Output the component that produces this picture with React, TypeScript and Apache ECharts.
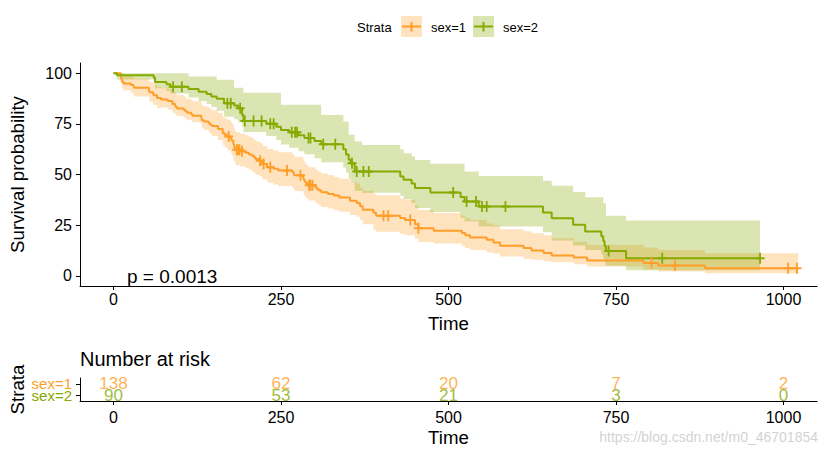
import React, { useEffect, useRef } from "react";
import * as echarts from "echarts";

const ORANGE = "#FF9E29";
const GREEN = "#86AA00";
const FONT = "'Liberation Sans', Arial, sans-serif";

// ---- sex=1 (step times, survival %, 95% CI lower/upper %) ----
const m_time = [0, 11, 12, 13, 15, 26, 30, 31, 53, 54, 59, 60, 65, 71, 81, 88, 92, 93, 95, 105, 107, 110, 116, 118, 131, 132, 135, 142, 144, 147, 156, 163, 166, 170, 175, 176, 177, 179, 180, 181, 183, 189, 197, 202, 207, 210, 212, 218, 222, 223, 229, 230, 239, 246, 267, 269, 270, 283, 284, 285, 286, 288, 291, 301, 303, 306, 310, 320, 329, 337, 353, 363, 368, 372, 388, 392, 428, 435, 450, 455, 478, 520, 525, 532, 557, 567, 577, 612, 624, 642, 654, 687, 707, 791, 813, 883];
const m_surv = [100, 97.8, 97.1, 95.7, 94.9, 94.2, 93.5, 92.8, 91.3, 90.6, 89.9, 89.1, 87.7, 87.0, 86.2, 84.8, 84.1, 83.3, 82.6, 81.9, 81.2, 80.4, 79.7, 79.0, 78.3, 76.8, 76.1, 75.4, 74.6, 73.9, 72.5, 70.3, 69.6, 68.8, 68.1, 67.4, 66.6, 65.2, 64.4, 63.0, 62.2, 61.5, 60.7, 59.9, 59.1, 58.4, 57.6, 56.8, 56.0, 55.2, 54.4, 53.6, 52.8, 52.0, 51.2, 50.4, 49.6, 48.8, 47.9, 47.1, 46.3, 45.5, 44.7, 43.8, 43.0, 42.2, 41.3, 40.4, 39.6, 38.7, 37.0, 36.0, 34.3, 32.6, 31.1, 29.6, 28.6, 27.6, 25.5, 23.5, 22.3, 21.1, 20.0, 18.9, 17.8, 16.4, 14.8, 13.8, 12.5, 11.3, 10.0, 9.0, 7.6, 6.3, 5.1, 3.8];
const m_lower = [100, 95.4, 94.3, 92.4, 91.4, 90.4, 89.4, 88.5, 86.7, 85.9, 85.0, 84.1, 82.8, 83.0, 82.0, 80.5, 80.0, 79.3, 78.8, 78.0, 77.5, 77.0, 76.5, 75.8, 75.0, 73.0, 72.0, 71.0, 70.0, 69.0, 67.0, 64.5, 63.3, 62.0, 60.8, 60.0, 59.2, 57.7, 56.9, 55.4, 54.6, 53.9, 53.1, 52.3, 51.5, 50.7, 49.9, 49.1, 48.3, 47.5, 46.7, 45.9, 45.1, 44.3, 43.5, 42.7, 41.9, 41.1, 40.3, 39.5, 38.8, 38.0, 37.2, 36.4, 35.6, 34.8, 34.0, 33.2, 32.4, 31.6, 30.0, 29.2, 27.7, 25.5, 22.8, 21.7, 20.8, 20.0, 18.3, 16.7, 16.0, 14.8, 13.7, 12.8, 11.6, 11.0, 9.5, 8.5, 7.9, 7.2, 6.7, 5.7, 4.6, 3.2, 2.2, 1.3];
const m_upper = [100, 100, 99.9, 99.1, 98.7, 98.2, 97.7, 97.2, 96.1, 95.6, 95.0, 94.4, 93.3, 92.8, 92.2, 91.0, 90.4, 89.8, 89.2, 88.6, 88.0, 87.3, 86.7, 86.1, 85.5, 84.2, 83.5, 82.9, 82.3, 81.6, 80.3, 78.3, 77.7, 77.0, 76.3, 75.7, 75.0, 73.6, 72.9, 71.5, 70.8, 70.1, 69.4, 68.6, 67.9, 67.2, 66.4, 65.7, 64.9, 64.1, 63.3, 62.5, 61.8, 61.0, 60.2, 59.5, 58.7, 57.8, 57.0, 56.2, 55.3, 54.5, 53.6, 52.8, 52.0, 51.3, 50.5, 49.6, 48.8, 47.9, 46.2, 45.4, 43.6, 42.0, 40.5, 39.8, 38.0, 37.5, 34.8, 32.5, 31.0, 29.6, 28.4, 27.5, 25.8, 25.0, 23.0, 22.0, 21.0, 20.0, 18.6, 16.8, 15.3, 14.0, 12.8, 11.2];
const m_end = 1022;
const m_censor = [172, 184, 186, 188, 192, 219, 224, 234, 259, 279, 292, 294, 297, 403, 410, 443, 455, 803, 838, 1007, 1020];

// ---- sex=2 ----
const f_time = [0, 5, 60, 62, 79, 85, 112, 127, 139, 146, 154, 165, 180, 186, 192, 194, 228, 243, 250, 262, 276, 285, 300, 310, 343, 347, 351, 354, 360, 371, 428, 433, 445, 450, 473, 518, 524, 545, 641, 654, 686, 704, 728, 731, 733, 735, 765];
const f_surv = [100, 98.9, 97.8, 95.6, 94.5, 93.3, 92.2, 90.8, 89.7, 88.5, 87.4, 85.2, 84.0, 82.7, 79.3, 76.4, 75.0, 73.5, 72.0, 70.8, 69.4, 68.0, 66.5, 64.9, 62.5, 59.9, 57.3, 55.5, 51.5, 51.5, 49.0, 47.4, 45.5, 43.3, 41.1, 38.9, 36.7, 34.2, 31.2, 28.4, 25.2, 21.9, 19.5, 17.1, 14.6, 12.3, 8.7];
const f_lower = [100, 96.8, 94.8, 92.5, 91.2, 90.0, 88.0, 86.3, 84.8, 83.3, 81.5, 78.5, 77.3, 75.8, 73.5, 71.0, 69.0, 67.0, 64.8, 63.2, 61.5, 60.0, 58.0, 56.0, 53.5, 51.0, 48.0, 46.0, 42.0, 41.0, 39.5, 37.8, 36.0, 33.5, 31.5, 28.5, 27.0, 24.3, 21.5, 17.5, 15.0, 12.8, 10.5, 8.5, 6.5, 5.0, 2.8];
const f_upper = [100, 100, 100, 100, 100, 100, 98.3, 98.3, 98.3, 98.3, 96.7, 96.7, 92.8, 92.8, 92.8, 90.3, 90.3, 90.3, 84.4, 84.4, 84.4, 84.4, 84.4, 79.4, 76.1, 76.1, 69.6, 69.6, 66.3, 64.6, 62.5, 60.5, 58.9, 57.2, 55.3, 55.3, 51.5, 49.3, 46.9, 44.4, 41.4, 38.8, 38.8, 35.9, 35.9, 29.6, 27.3];
const f_end = 965;
const f_censor = [89, 102, 170, 175, 189, 196, 209, 221, 234, 239, 266, 271, 274, 291, 294, 313, 331, 356, 363, 373, 381, 507, 527, 541, 550, 557, 585, 739, 819, 965];

// ---- risk table ----
const strata = ["sex=1", "sex=2"];
const riskTimes = [0, 250, 500, 750, 1000];
const risk1 = [138, 62, 20, 7, 2];
const risk2 = [90, 53, 21, 3, 0];

const xTicks = [0, 250, 500, 750, 1000];
const yTicks = [0, 25, 50, 75, 100];
const pValueText = "p = 0.0013";

const CROSS = "path://M4,0H6V4.5H10V6.5H6V11H4V6.5H0V4.5H4Z";

function stepValue(times: number[], vals: number[], t: number) {
  let v = vals[0];
  for (let i = 0; i < times.length; i++) if (times[i] <= t) v = vals[i];
  return v;
}

function bandSeries(times: number[], lower: number[], upper: number[], end: number, color: string) {
  return {
    type: "custom",
    coordinateSystem: "cartesian2d",
    xAxisIndex: 0,
    yAxisIndex: 0,
    silent: true,
    z: 1,
    data: [[times[0], lower[0]]],
    renderItem: (_p: any, api: any) => {
      const pts: number[][] = [];
      const n = times.length;
      for (let i = 0; i < n; i++) {
        const t1 = i + 1 < n ? times[i + 1] : end;
        pts.push(api.coord([times[i], upper[i]]));
        pts.push(api.coord([t1, upper[i]]));
      }
      for (let i = n - 1; i >= 0; i--) {
        const t1 = i + 1 < n ? times[i + 1] : end;
        pts.push(api.coord([t1, lower[i]]));
        pts.push(api.coord([times[i], lower[i]]));
      }
      return { type: "polygon", shape: { points: pts }, style: { fill: color, opacity: 0.3 } };
    },
  };
}

function lineSeries(times: number[], surv: number[], end: number, color: string) {
  const data = times.map((t, i) => [t, surv[i]]);
  data.push([end, surv[surv.length - 1]]);
  return {
    type: "line",
    step: "end",
    xAxisIndex: 0,
    yAxisIndex: 0,
    data,
    symbol: "none",
    silent: true,
    z: 3,
    lineStyle: { color, width: 2 },
  };
}

function censorSeries(times: number[], surv: number[], censor: number[], color: string) {
  return {
    type: "scatter",
    xAxisIndex: 0,
    yAxisIndex: 0,
    data: censor.map((t) => [t, stepValue(times, surv, t)]),
    symbol: CROSS,
    symbolSize: [9, 11],
    silent: true,
    z: 4,
    itemStyle: { color, opacity: 1 },
  };
}

function riskSeries(label: string, counts: number[], color: string) {
  return {
    type: "scatter",
    xAxisIndex: 1,
    yAxisIndex: 1,
    data: riskTimes.map((t, i) => [t, label, counts[i]]),
    symbol: "circle",
    symbolSize: 1,
    silent: true,
    itemStyle: { color: "rgba(0,0,0,0)" },
    label: {
      show: true,
      position: "inside",
      formatter: (p: any) => String(p.value[2]),
      color,
      fontSize: 17,
      fontFamily: FONT,
    },
  };
}

export default function App() {
  const ref = useRef<HTMLDivElement>(null);
  useEffect(() => {
    if (!ref.current) return;
    const chart = echarts.init(ref.current, null, { renderer: "svg" });
    const axisCommon = {
      axisLine: { show: true, onZero: false, lineStyle: { color: "#000", width: 1 } },
      splitLine: { show: false },
    };
    const plain = (v: number) => String(v);
    const option: any = {
      animation: false,
      backgroundColor: "#fff",
      grid: [
        { left: 80, top: 63, width: 737, height: 223 },
        { left: 80, top: 378, width: 737, height: 23 },
      ],
      xAxis: [
        {
          gridIndex: 0,
          type: "value",
          min: -50,
          max: 1050,
          ...axisCommon,
          axisTick: { show: true, length: 4, customValues: xTicks, lineStyle: { color: "#000" } },
          axisLabel: { customValues: xTicks, formatter: plain, fontSize: 16, color: "#000", margin: 5, fontFamily: FONT },
        },
        {
          gridIndex: 1,
          type: "value",
          min: -50,
          max: 1050,
          ...axisCommon,
          axisTick: { show: true, length: 4, customValues: xTicks, lineStyle: { color: "#000" } },
          axisLabel: { customValues: xTicks, formatter: plain, fontSize: 16, color: "#000", margin: 8, fontFamily: FONT },
        },
      ],
      yAxis: [
        {
          gridIndex: 0,
          type: "value",
          min: -5,
          max: 105,
          ...axisCommon,
          axisTick: { show: true, length: 4, customValues: yTicks, lineStyle: { color: "#000" } },
          axisLabel: { customValues: yTicks, formatter: plain, fontSize: 16, color: "#000", margin: 8, fontFamily: FONT },
        },
        {
          gridIndex: 1,
          type: "category",
          data: strata,
          inverse: true,
          ...axisCommon,
          axisTick: { show: true, length: 4, alignWithLabel: true, interval: 0, lineStyle: { color: "#000" } },
          axisLabel: {
            margin: 8,
            interval: 0,
            hideOverlap: false,
            formatter: (v: string) => (v === strata[0] ? `{a|${v}}` : `{b|${v}}`),
            rich: {
              a: { color: ORANGE, fontSize: 15, fontFamily: FONT, lineHeight: 12 },
              b: { color: GREEN, fontSize: 15, fontFamily: FONT, lineHeight: 12 },
            },
          },
        },
      ],
      series: [
        bandSeries(m_time, m_lower, m_upper, m_end, ORANGE),
        bandSeries(f_time, f_lower, f_upper, f_end, GREEN),
        lineSeries(m_time, m_surv, m_end, ORANGE),
        lineSeries(f_time, f_surv, f_end, GREEN),
        censorSeries(m_time, m_surv, m_censor, ORANGE),
        censorSeries(f_time, f_surv, f_censor, GREEN),
        riskSeries(strata[0], risk1, ORANGE),
        riskSeries(strata[1], risk2, GREEN),
      ],
      graphic: [
        // legend
        { type: "text", x: 357, y: 27, style: { text: "Strata", font: `13px ${FONT}`, fill: "#000", align: "left", verticalAlign: "middle" } },
        { type: "rect", shape: { x: 401, y: 16, width: 21, height: 21 }, style: { fill: ORANGE, opacity: 0.3 } },
        { type: "line", shape: { x1: 402, y1: 26.5, x2: 421, y2: 26.5 }, style: { stroke: ORANGE, lineWidth: 2 } },
        { type: "line", shape: { x1: 411.5, y1: 22, x2: 411.5, y2: 31.5 }, style: { stroke: ORANGE, lineWidth: 2 } },
        { type: "text", x: 431, y: 27, style: { text: strata[0], font: `13px ${FONT}`, fill: "#000", align: "left", verticalAlign: "middle" } },
        { type: "rect", shape: { x: 473, y: 16, width: 21, height: 21 }, style: { fill: GREEN, opacity: 0.3 } },
        { type: "line", shape: { x1: 474, y1: 26.5, x2: 493, y2: 26.5 }, style: { stroke: GREEN, lineWidth: 2 } },
        { type: "line", shape: { x1: 483.5, y1: 22, x2: 483.5, y2: 31.5 }, style: { stroke: GREEN, lineWidth: 2 } },
        { type: "text", x: 503, y: 27, style: { text: strata[1], font: `13px ${FONT}`, fill: "#000", align: "left", verticalAlign: "middle" } },
        // titles
        { type: "text", x: 17, y: 174.5, rotation: Math.PI / 2, style: { text: "Survival probability", font: `18.7px ${FONT}`, fill: "#000", align: "center", verticalAlign: "middle" } },
        { type: "text", x: 448.5, y: 323, style: { text: "Time", font: `18.7px ${FONT}`, fill: "#000", align: "center", verticalAlign: "middle" } },
        { type: "text", x: 127, y: 276, style: { text: pValueText, font: `19px ${FONT}`, fill: "#000", align: "left", verticalAlign: "middle" } },
        { type: "text", x: 80, y: 359, style: { text: "Number at risk", font: `20px ${FONT}`, fill: "#000", align: "left", verticalAlign: "middle" } },
        { type: "text", x: 17, y: 389.5, rotation: Math.PI / 2, style: { text: "Strata", font: `18.7px ${FONT}`, fill: "#000", align: "center", verticalAlign: "middle" } },
        { type: "text", x: 448.5, y: 437, style: { text: "Time", font: `18.7px ${FONT}`, fill: "#000", align: "center", verticalAlign: "middle" } },
        { type: "text", x: 818, y: 437, style: { text: "https://blog.csdn.net/m0_46701854", font: `14px ${FONT}`, fill: "rgba(190,190,190,0.7)", align: "right", verticalAlign: "middle" } },
      ],
    };
    chart.setOption(option);
    return () => chart.dispose();
  }, []);
  return (
    <div
      ref={ref}
      style={{ position: "absolute", left: 0, top: 0, width: 825, height: 455, background: "#fff" }}
    />
  );
}
